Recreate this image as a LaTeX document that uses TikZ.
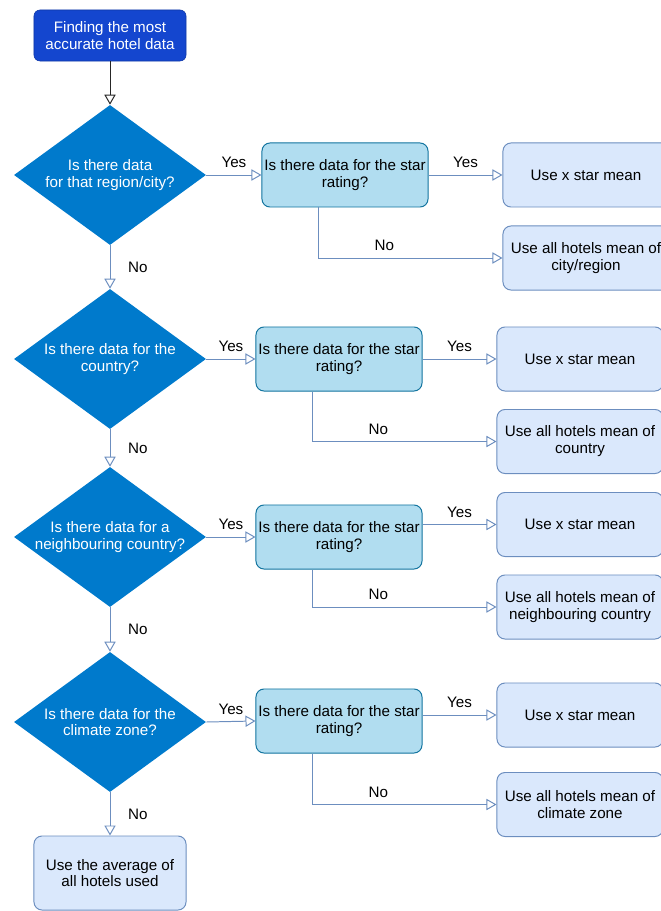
\documentclass[tikz,border=0pt]{standalone}
\usepackage{fontspec}
\setmainfont{Liberation Sans}
\usetikzlibrary{shapes.geometric,arrows.meta}

\definecolor{startblue}{HTML}{1446CF}
\definecolor{decblue}{HTML}{007ACC}
\definecolor{starfill}{HTML}{B1DDF0}
\definecolor{stardraw}{HTML}{10739E}
\definecolor{usefill}{HTML}{DAE8FC}
\definecolor{usedraw}{HTML}{6C8EBF}

\begin{document}
\begin{tikzpicture}[x=0.025cm,y=-0.025cm,
    every node/.style={font=\fontsize{10.8}{12}\selectfont,align=center,inner sep=0pt},
    startbox/.style={rectangle,rounded corners=0.15cm,fill=startblue,draw=startblue!80!black,
      text=white,minimum width=3.8cm,minimum height=1.275cm},
    decision/.style={diamond,fill=decblue,minimum width=4.8cm,minimum height=3.5cm},
    declabel/.style={text=white},
    starbox/.style={rectangle,rounded corners=0.2cm,fill=starfill,draw=stardraw,line width=0.7pt,
      minimum width=4.15cm,minimum height=1.6cm},
    usebox/.style={rectangle,rounded corners=0.2cm,fill=usefill,draw=usedraw,line width=0.7pt,
      minimum width=4.15cm,minimum height=1.6cm},
    link/.style={draw=usedraw,line width=0.7pt,-{Triangle[open,length=0.25cm,width=0.28cm]}},
    yeslabel/.style={above=0.16cm},
    nolabel/.style={right=0.44cm}]
  \useasboundingbox (0,0) rectangle (661,911);

  % start and the chain of questions
  \node[startbox] (start) at (110,35.5) {Finding the most\\accurate hotel data};
  \node[decision,label={[declabel]center:{Is there data\\for that region/city?}}] (d1) at (110,175) {};
  \node[decision,label={[declabel]center:{Is there data for the\\country?}}] (d2) at (110,359) {};
  \node[decision,label={[declabel]center:{Is there data for a\\neighbouring country?}}] (d3) at (110,537) {};
  \node[decision,label={[declabel]center:{Is there data for the\\climate zone?}}] (d4) at (110,722) {};
  \node[usebox,minimum width=3.8cm,minimum height=1.85cm] (last) at (110,873) {Use the average of\\all hotels used};

  % star rating questions
  \node[starbox] (s1) at (345,175) {Is there data for the star\\rating?};
  \node[starbox] (s2) at (339,359) {Is there data for the star\\rating?};
  \node[starbox] (s3) at (339,537) {Is there data for the star\\rating?};
  \node[starbox] (s4) at (339,721) {Is there data for the star\\rating?};

  % outcomes
  \node[usebox] (r1a) at (586,175) {Use x star mean};
  \node[usebox] (r1b) at (586,258) {Use all hotels mean of\\city/region};
  \node[usebox] (r2a) at (580,359) {Use x star mean};
  \node[usebox] (r2b) at (580,441.5) {Use all hotels mean of\\country};
  \node[usebox] (r3a) at (580,524.5) {Use x star mean};
  \node[usebox] (r3b) at (580,607) {Use all hotels mean of\\neighbouring country};
  \node[usebox] (r4a) at (580,715) {Use x star mean};
  \node[usebox] (r4b) at (580,804.5) {Use all hotels mean of\\climate zone};

  % connectors
  \draw[link,draw=black!85] (start) -- (d1.north);
  \draw[link] (d1.south) -- node[nolabel] {No} (d2.north);
  \draw[link] (d2.south) -- node[nolabel] {No} (d3.north);
  \draw[link] (d3.south) -- node[nolabel] {No} (d4.north);
  \draw[link] (d4.south) -- node[nolabel] {No} (last.north);

  \draw[link] (d1.east) -- node[yeslabel] {Yes} (s1.west);
  \draw[link] (d2.east) -- node[yeslabel] {Yes} (s2.west);
  \draw[link] (d3.east) -- node[yeslabel] {Yes} (s3.west);
  \draw[link] (d4.east) -- node[yeslabel] {Yes} (s4.west);

  \draw[link] (s1.east |- r1a.west) -- node[yeslabel] {Yes} (r1a.west);
  \draw[link] (s2.east |- r2a.west) -- node[yeslabel] {Yes} (r2a.west);
  \draw[link] (s3.east |- r3a.west) -- node[yeslabel] {Yes} (r3a.west);
  \draw[link] (s4.east |- r4a.west) -- node[yeslabel] {Yes} (r4a.west);

  \draw[link] ([xshift=-0.675cm]s1.south) |- node[yeslabel,pos=0.68] {No} (r1b.west);
  \draw[link] ([xshift=-0.675cm]s2.south) |- node[yeslabel,pos=0.68] {No} (r2b.west);
  \draw[link] ([xshift=-0.675cm]s3.south) |- node[yeslabel,pos=0.68] {No} (r3b.west);
  \draw[link] ([xshift=-0.675cm]s4.south) |- node[yeslabel,pos=0.68] {No} (r4b.west);
\end{tikzpicture}
\end{document}
